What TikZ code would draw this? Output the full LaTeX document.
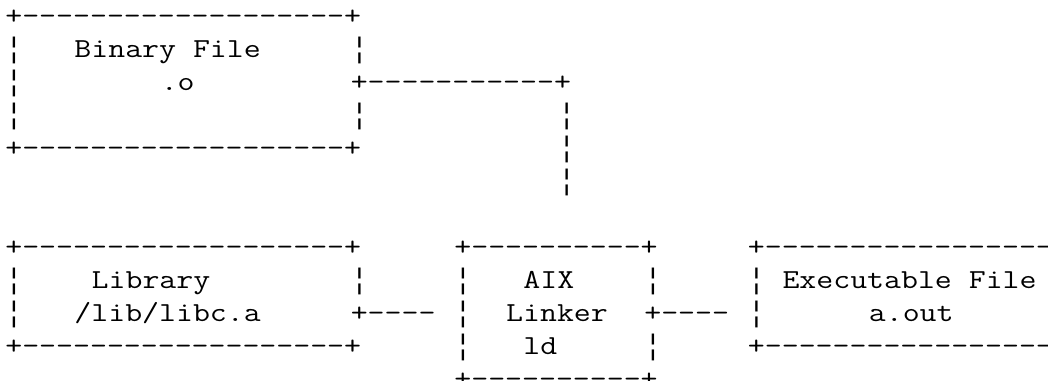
\documentclass[tikz,border=0pt]{standalone}
\usepackage{graphicx}
\usepackage{fontspec}
\newfontfamily\barfont{Liberation Mono}
\newcommand\dashes[1]{\count255=0 \loop\ifnum\count255<#1 -\kern0pt\advance\count255 by 1 \repeat}
\tikzset{
  ascii/.style={anchor=base west, inner sep=0pt, outer sep=0pt,
    font=\fontsize{27.5}{33}\selectfont\ttfamily, text=black}
}
\newcommand\asc[4]{\node[ascii] (#1) at ({5.37+17.27*#2},{-(24.3+33*(#3-1))}) {\scalebox{1.196}[1]{#4}};}
\newcommand\vb{\scalebox{0.836}[1]{\fontsize{28.8}{33}\barfont ¦}}
\begin{document}
\begin{tikzpicture}[x=1pt,y=1pt]
\useasboundingbox (0,0) rectangle (1048,-380);
\clip (0,0) rectangle (1048,-380);
% Binary file box
\asc{bt}{0}{1}{+\dashes{19}+}
\asc{bl2}{0}{2}{\vb}
\asc{binlabel}{4}{2}{Binary File}
\asc{br2}{20}{2}{\vb}
\asc{bl3}{0}{3}{\vb}
\asc{binext}{9}{3}{.o}
\asc{c1}{20}{3}{+\dashes{11}+}
\asc{bl4}{0}{4}{\vb}
\asc{br4}{20}{4}{\vb}
\asc{v4}{32}{4}{\vb}
\asc{bb}{0}{5}{+\dashes{19}+}
\asc{v5}{32}{5}{\vb}
\asc{v6}{32}{6}{\vb}
% bottom row
\asc{lt}{0}{8}{+\dashes{19}+}
\asc{at}{26}{8}{+\dashes{10}+}
\asc{et}{43}{8}{+\dashes{18}}
\asc{ll9}{0}{9}{\vb}
\asc{liblabel}{5}{9}{Library}
\asc{lr9}{20}{9}{\vb}
\asc{al9}{26}{9}{\vb}
\asc{aix}{30}{9}{AIX}
\asc{ar9}{37}{9}{\vb}
\asc{el9}{43}{9}{\vb}
\asc{exelabel}{45}{9}{Executable File}
\asc{ll10}{0}{10}{\vb}
\asc{libpath}{4}{10}{/lib/libc.a}
\asc{c2}{20}{10}{+\dashes{4}}
\asc{al10}{26}{10}{\vb}
\asc{linker}{29}{10}{Linker}
\asc{c3}{37}{10}{+\dashes{4}}
\asc{el10}{43}{10}{\vb}
\asc{aout}{50}{10}{a.out}
\asc{lb}{0}{11}{+\dashes{19}+}
\asc{al11}{26}{11}{\vb}
\asc{ld}{30}{11}{ld}
\asc{ar11}{37}{11}{\vb}
\asc{eb}{43}{11}{+\dashes{18}}
\asc{ab}{26}{12}{+\dashes{10}+}
\end{tikzpicture}
\end{document}
